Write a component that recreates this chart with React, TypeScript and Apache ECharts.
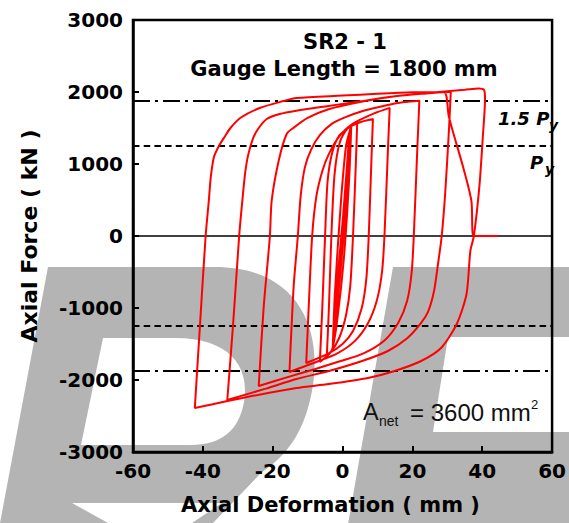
import React, { useEffect, useRef } from "react";
import * as echarts from "echarts";

// Axis ranges / ticks
const xMin = -60;
const xMax = 60;
const xStep = 20;
const yMin = -3000;
const yMax = 3000;
const yStep = 1000;

// Reference force levels (kN)
const Py = 1250;
const Py15 = 1875;

// Title / annotation texts
const titleLines = ["SR2 - 1", "Gauge Length = 1800 mm"];

// Hysteresis path: [deformation (mm), force (kN)], in loading order
const elasticCycles: [number, number][] = [
  [0, 0], [1.8, 1350], [1.2, 700], [-0.5, -350], [-2.2, -1400], [-1.6, -700], [0.2, 300],
  [2.0, 1450], [1.4, 700], [-0.6, -500], [-2.8, -1550], [-2.2, -800], [-0.5, 450], [1.0, 1250],
  [2.5, 1530], [1.9, 800], [0.4, -300], [-1.6, -1200], [-3.0, -1580], [-4.5, -1660],
  [-3.9, -1000], [-3.2, 0], [-2.3, 850], [-0.8, 1300], [1.5, 1500], [4.2, 1575],
];
const cycle4mm: [number, number][] = [
  [3.8, 1000], [3.0, 0], [2.2, -700], [1.0, -1100], [-1.0, -1420], [-3.5, -1620], [-6.5, -1750],
  [-5.8, -1000], [-5.0, 0], [-4.3, 750], [-3.0, 1150], [-1.0, 1390], [2.0, 1510], [5.0, 1580], [8.7, 1625],
];
const cycle9mm: [number, number][] = [
  [8.3, 1100], [7.5, 0], [6.8, -600], [5.5, -1000], [3.0, -1320], [0.0, -1500], [-4.0, -1630], [-10.4, -1764],
  [-9.7, -1000], [-8.7, 0], [-7.5, 550], [-5.8, 900], [-3.9, 1140], [-1.0, 1380], [2.8, 1556], [9.3, 1708], [13.5, 1780],
];
const cycle14mm: [number, number][] = [
  [13.0, 1200], [12.0, 0], [11.3, -500], [9.8, -900], [7.2, -1220], [3.5, -1460], [-1.5, -1630], [-7, -1740], [-15.2, -1889],
  [-14.0, -700], [-12.8, 0], [-12.0, 550], [-10.8, 950], [-9.0, 1200], [-6.5, 1400], [-3.0, 1560], [0.85, 1650],
  [6, 1740], [12, 1810], [17.7, 1860], [22, 1880],
];
const cycle22mm: [number, number][] = [
  [21.4, 1200], [20.4, 0], [19.8, -500], [18.5, -900], [16, -1200], [12, -1450], [6, -1630], [0, -1730],
  [-8, -1850], [-15, -1950], [-24, -2083],
  [-22.6, -1000], [-20.8, 0], [-20.3, 486], [-18.3, 1042], [-16, 1417], [-14.1, 1500], [-10, 1640], [-4, 1760],
  [5, 1860], [15, 1940], [24, 1980], [31, 2005],
];
const cycle31mm: [number, number][] = [
  [30.5, 1500], [29.4, 600], [28.4, 0], [27.3, -400], [26.2, -764], [24.5, -1050], [22.5, -1208], [18.6, -1417],
  [13, -1597], [5.6, -1736], [-3.9, -1875], [-13.2, -1986], [-22, -2120], [-33, -2278],
  [-31.3, -1200], [-29.6, 0], [-28.7, 486], [-27.9, 870], [-27.0, 1130], [-25.6, 1360], [-24, 1500], [-21.7, 1625],
  [-18, 1694], [-13.2, 1740], [-5, 1800], [5, 1870], [15, 1940], [25, 1990], [35, 2030], [39, 2050], [40.5, 2030],
];
const cycle40mm: [number, number][] = [
  [40.8, 1900], [40.2, 1400], [39.2, 700], [37.6, 0], [36.6, -208], [35.5, -806], [32.7, -1222], [28.2, -1556],
  [22.5, -1736], [14.9, -1875], [7.3, -1972], [-3.9, -2056], [-13.2, -2111], [-27.3, -2236], [-42.3, -2389],
];
const fractureCycle: [number, number][] = [
  [-40.9, -1300], [-39.2, 0], [-38.3, 486], [-37.7, 830], [-36.8, 1100], [-35.4, 1250], [-33.6, 1390],
  [-32.1, 1500], [-29.3, 1639], [-23.7, 1778], [-16.9, 1875], [-13.2, 1917], [0, 1950], [10, 1975], [20, 1995],
  [29, 2000], [30.4, 1667], [31.8, 1417], [34.6, 944], [36.9, 486], [37.5, 0], [44.5, 0],
];

const hysteresis = [
  ...elasticCycles, ...cycle4mm, ...cycle9mm, ...cycle14mm, ...cycle22mm,
  ...cycle31mm, ...cycle40mm, ...fractureCycle,
];

const WM_D = "M48 267 L215 267 C295 267 322 325 313 385 C306 430 288 455 262 472 L213 523 L0 523 Z";
const WM_D_HOLE = "M103 338 L175 338 C228 338 250 365 244 402 C239 430 222 445 190 445 L81 445 Z";
const WM_D_GAP = "M72 503 L222 503 L192 523 L108 523 Z";
const WM_E = "M393 267 L575 267 L575 337 L448 337 L433 432 L575 432 L575 530 L347 530 Z";

let registered = false;
function registerShapes() {
  if (registered) return;
  registered = true;
  echarts.graphic.registerShape("wmD", echarts.graphic.extendPath(WM_D, {}) as any);
  echarts.graphic.registerShape("wmDHole", echarts.graphic.extendPath(WM_D_HOLE, {}) as any);
  echarts.graphic.registerShape("wmDGap", echarts.graphic.extendPath(WM_D_GAP, {}) as any);
  echarts.graphic.registerShape("wmE", echarts.graphic.extendPath(WM_E, {}) as any);
}

const BOLD = "DejaVu Sans";

export default function App() {
  const ref = useRef<HTMLDivElement>(null);
  useEffect(() => {
    if (!ref.current) return;
    registerShapes();
    const chart = echarts.init(ref.current, null, { renderer: "svg" });
    const grey = "#b4b4b4";
    const refLine = (y: number, dash: any, width: number) => ({
      type: "line",
      data: [[xMin, y], [xMax, y]],
      symbol: "none",
      silent: true,
      z: 3,
      lineStyle: { color: "#000", width, type: dash },
    });
    chart.setOption({
      animation: false,
      grid: {
        left: 133, top: 20, width: 425, height: 432,
        show: true, borderColor: "#000", borderWidth: 2.5, backgroundColor: "transparent",
      },
      xAxis: {
        type: "value", min: xMin, max: xMax, interval: xStep,
        axisLine: { show: true, onZero: false, lineStyle: { color: "#000", width: 2.5 } },
        axisTick: { show: true, inside: true, length: 6, lineStyle: { color: "#000", width: 2 } },
        axisLabel: {
          color: "#000", fontFamily: BOLD, fontWeight: "bold", fontSize: 20, margin: 9,
          formatter: (v: number) => String(v),
        },
        splitLine: { show: false },
        name: "Axial Deformation ( mm )",
        nameLocation: "middle",
        nameGap: 42,
        nameTextStyle: { color: "#000", fontFamily: BOLD, fontWeight: "bold", fontSize: 21, padding: [0, 24, 0, 0] },
      },
      yAxis: {
        type: "value", min: yMin, max: yMax, interval: yStep,
        axisLine: { show: true, onZero: false, lineStyle: { color: "#000", width: 2.5 } },
        axisTick: { show: true, inside: true, length: 6, lineStyle: { color: "#000", width: 2 } },
        axisLabel: {
          color: "#000", fontFamily: BOLD, fontWeight: "bold", fontSize: 20, margin: 10,
          formatter: (v: number) => String(v),
        },
        splitLine: { show: false },
        name: "Axial Force ( kN )",
        nameLocation: "middle",
        nameGap: 93,
        nameTextStyle: { color: "#000", fontFamily: BOLD, fontWeight: "bold", fontSize: 22 },
      },
      series: [
        refLine(0, "solid", 1.6),
        refLine(Py, [6.5, 4.2], 1.8),
        refLine(-Py, [6.5, 4.2], 1.8),
        refLine(Py15, [17, 5, 3, 5], 1.8),
        refLine(-Py15, [17, 5, 3, 5], 1.8),
        {
          type: "line",
          data: hysteresis,
          symbol: "none",
          smooth: 0.25,
          z: 4,
          lineStyle: { color: "#ff0000", width: 2 },
        },
      ],
      graphic: [
        { type: "wmD", x: 0, y: 0, z: -10, silent: true, style: { fill: grey } },
        { type: "wmDHole", x: 0, y: 0, z: -9, silent: true, style: { fill: "#fff" } },
        { type: "wmDGap", x: 0, y: 0, z: -9, silent: true, style: { fill: "#fff" } },
        { type: "wmE", x: 0, y: 0, z: -10, silent: true, style: { fill: grey } },
        {
          type: "text", x: 345, y: 42, z: 50,
          style: { text: titleLines[0], fill: "#000", fontFamily: BOLD, fontWeight: "bold", fontSize: 21, align: "center", verticalAlign: "middle" },
        },
        {
          type: "text", x: 344, y: 69, z: 50,
          style: { text: titleLines[1], fill: "#000", fontFamily: BOLD, fontWeight: "bold", fontSize: 21, align: "center", verticalAlign: "middle" },
        },
        {
          type: "text", x: 498, y: 118, z: 50,
          style: { text: "1.5 P", fill: "#000", fontFamily: BOLD, fontWeight: "bold", fontStyle: "italic", fontSize: 18, align: "left", verticalAlign: "middle" },
        },
        {
          type: "text", x: 549, y: 125, z: 50,
          style: { text: "y", fill: "#000", fontFamily: BOLD, fontWeight: "bold", fontStyle: "italic", fontSize: 14, align: "left", verticalAlign: "middle" },
        },
        {
          type: "text", x: 530, y: 162, z: 50,
          style: { text: "P", fill: "#000", fontFamily: BOLD, fontWeight: "bold", fontStyle: "italic", fontSize: 18, align: "left", verticalAlign: "middle" },
        },
        {
          type: "text", x: 545, y: 169, z: 50,
          style: { text: "y", fill: "#000", fontFamily: BOLD, fontWeight: "bold", fontStyle: "italic", fontSize: 14, align: "left", verticalAlign: "middle" },
        },
        {
          type: "text", x: 363, y: 412, z: 50,
          style: { text: "A", fill: "#111", fontFamily: "Liberation Sans", fontSize: 23.5, align: "left", verticalAlign: "middle" },
        },
        {
          type: "text", x: 379, y: 421, z: 50,
          style: { text: "net", fill: "#111", fontFamily: "Liberation Sans", fontSize: 14, align: "left", verticalAlign: "middle" },
        },
        {
          type: "text", x: 410, y: 412, z: 50,
          style: { text: "= 3600 mm", fill: "#111", fontFamily: "Liberation Sans", fontSize: 24, align: "left", verticalAlign: "middle" },
        },
        {
          type: "text", x: 531, y: 404, z: 50,
          style: { text: "2", fill: "#111", fontFamily: "Liberation Sans", fontSize: 13, align: "left", verticalAlign: "middle" },
        },
      ],
    });
    return () => chart.dispose();
  }, []);
  return (
    <div
      ref={ref}
      style={{ position: "absolute", left: 0, top: 0, width: 569, height: 523, background: "#fff" }}
    />
  );
}
